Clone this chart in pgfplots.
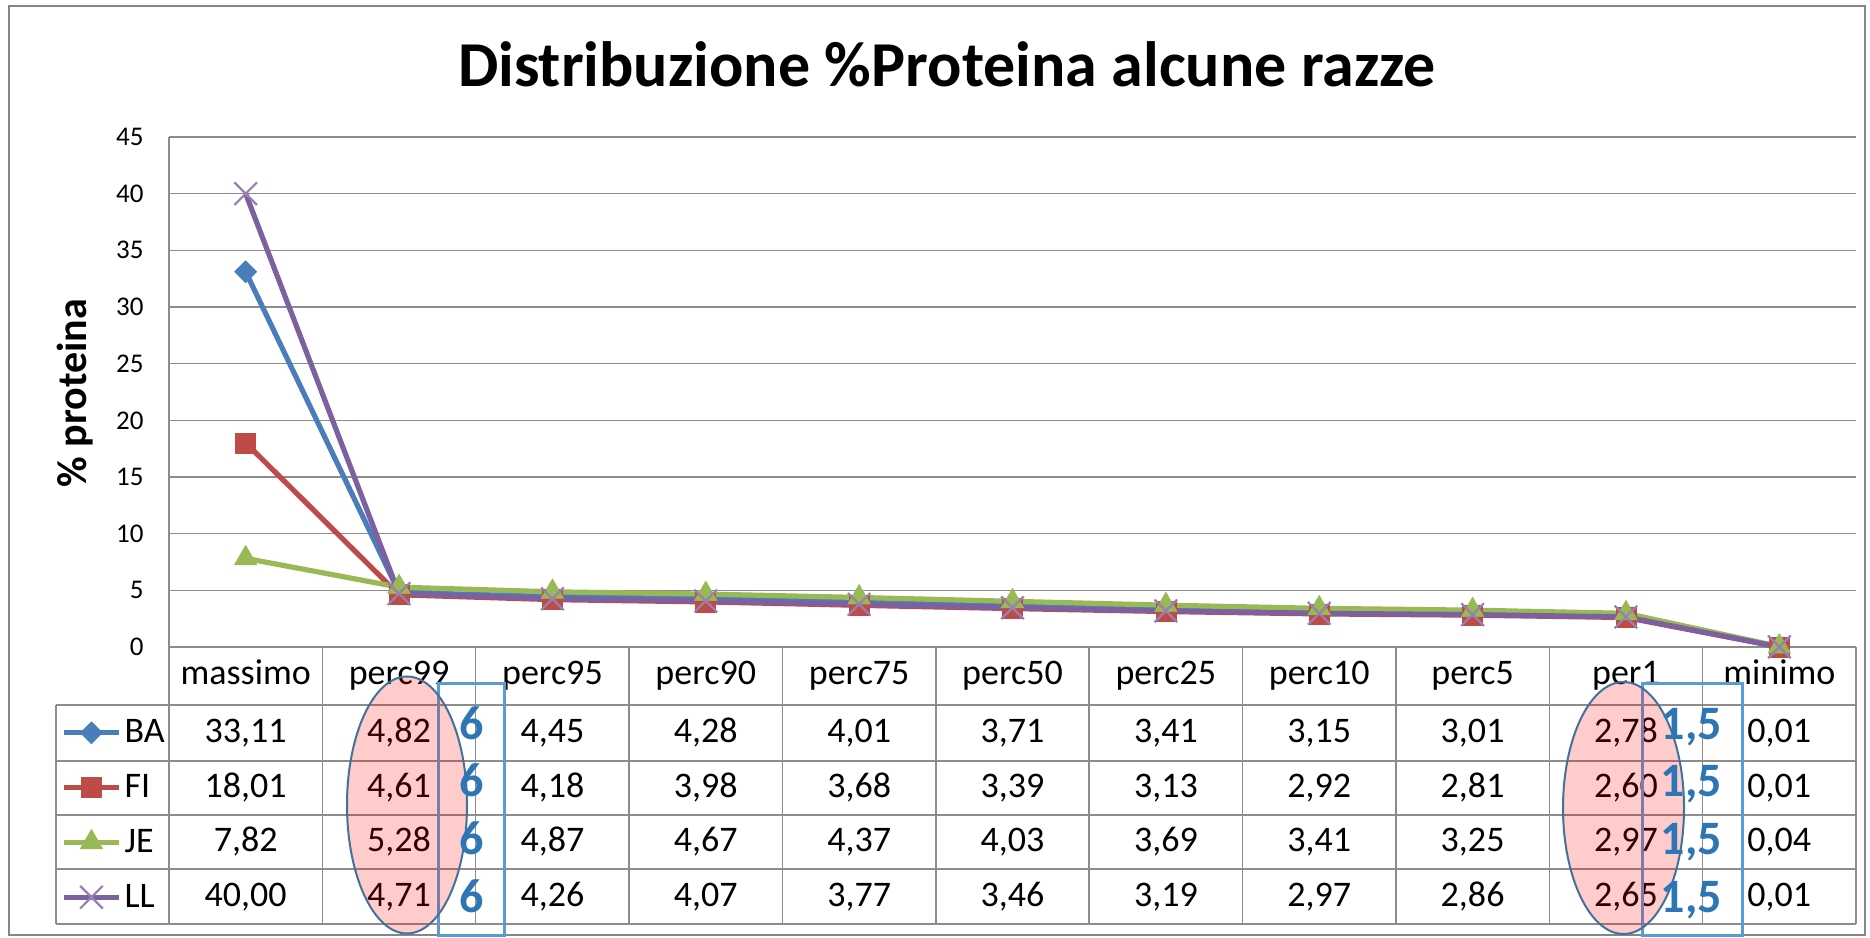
\documentclass[border=0pt]{standalone}
\usepackage{fontspec}
\setmainfont{Carlito}
\usepackage{pgfplots}
\usepackage{pgfplotstable}
\pgfplotsset{compat=1.18}
\pgfkeys{/pgf/number format/assume math mode=true}

\definecolor{cBA}{HTML}{4A7EBB}
\definecolor{cFI}{HTML}{BE4B48}
\definecolor{cJE}{HTML}{98B954}
\definecolor{cLL}{HTML}{7D60A0}
\definecolor{gridc}{HTML}{8C8C8C}
\definecolor{framec}{HTML}{868686}
\definecolor{annblue}{HTML}{5B9BD5}
\definecolor{numblue}{HTML}{2E75B6}
\definecolor{ellline}{HTML}{41719C}

\newcommand\tabfont{\fontsize{18pt}{20pt}\selectfont}

\pgfplotstableread{
cat BA FI JE LL
0 33.11 18.01 7.82 40.00
1 4.82 4.61 5.28 4.71
2 4.45 4.18 4.87 4.26
3 4.28 3.98 4.67 4.07
4 4.01 3.68 4.37 3.77
5 3.71 3.39 4.03 3.46
6 3.41 3.13 3.69 3.19
7 3.15 2.92 3.41 2.97
8 3.01 2.81 3.25 2.86
9 2.78 2.60 2.97 2.65
10 0.01 0.01 0.04 0.01
}\datatable

\begin{document}
\begin{tikzpicture}
\begin{scope}[x=1pt,y=1pt]
\useasboundingbox (0,0) rectangle (935,468.5);
\draw[framec, line width=1.2pt] (4.5,1) rectangle (932.5,465.5);
\node[anchor=base, font=\fontsize{32pt}{36pt}\selectfont\bfseries, inner sep=0pt] at (473.5,425) {Distribuzione \%Proteina alcune razze};
\node[rotate=90, font=\fontsize{21pt}{24pt}\selectfont\bfseries, inner sep=0pt] at (37.5,272) {\% proteina};
\end{scope}

\begin{axis}[
  at={(84.5pt,145pt)}, anchor=south west,
  scale only axis, width=843.5pt, height=255pt,
  xmin=-0.5, xmax=10.5, ymin=0, ymax=45,
  xtick=\empty, ytick={0,5,...,45},
  ymajorgrids, grid style={gridc, line width=0.7pt},
  axis x line*=bottom, axis y line*=left,
  axis line style={-, gridc, line width=0.7pt},
  major tick length=0pt,
  yticklabel style={font=\fontsize{13.5pt}{15pt}\selectfont, anchor=east, inner sep=0pt, xshift=-12.5pt},
  /pgf/number format/assume math mode=true,
  clip=false,
  legend image code/.code={\draw[mark repeat=2,mark phase=2] plot coordinates {(0pt,0pt) (13.75pt,0pt) (27.5pt,0pt)};},
  legend style={at={(axis description cs:-0.06402,-0.11373)}, anchor=north west, draw=none, fill=none, inner sep=0pt, font=\tabfont, column sep=1.5pt, nodes={inner sep=0pt, minimum height=27.4pt}},
  legend cell align=left,
  every axis plot/.append style={line width=2.6pt, line join=round},
]
\addplot[cBA, mark=square*, mark size=3.9pt, mark options={rotate=45, solid, line width=0.3pt}] table[x=cat,y=BA]{\datatable};
\addlegendentry{BA}
\addplot[cFI, mark=square*, mark size=5pt, mark options={solid, line width=0.3pt}] table[x=cat,y=FI]{\datatable};
\addlegendentry{FI}
\addplot[cJE, mark=triangle*, mark size=6.5pt, mark options={solid, line width=0.3pt}] table[x=cat,y=JE]{\datatable};
\addlegendentry{JE}
\addplot[cLL, mark=x, mark size=8pt, mark options={solid, draw=cLL!80!white, line width=1.1pt}] table[x=cat,y=LL]{\datatable};
\addlegendentry{LL}
\end{axis}

\begin{scope}[x=1pt,y=1pt]
% table grid
\foreach \k in {0,...,11} {
  \draw[gridc, line width=0.7pt] ({84.5+76.682*\k},145) -- ({84.5+76.682*\k},6.5);
}
\draw[gridc, line width=0.7pt] (28,116) -- (28,6.5);
\foreach \yy in {116,88,61,34,6.5} {
  \draw[gridc, line width=0.7pt] (28,\yy) -- (928,\yy);
}
% header
\foreach \h [count=\i from 0] in {massimo,perc99,perc95,perc90,perc75,perc50,perc25,perc10,perc5,per1,minimo} {
  \node[anchor=base, inner sep=0pt, font=\tabfont] at ({84.5+76.682*(\i+0.5)},126) {\h};
}
% values
\foreach \s/\yb in {BA/97,FI/69.5,JE/42.5,LL/15.25} {
  \foreach \r in {0,...,10} {
    \pgfplotstablegetelem{\r}{\s}\of\datatable
    \node[anchor=base, inner sep=0pt, font=\tabfont] at ({84.5+76.682*(\r+0.5)},\yb)
      {\pgfmathprintnumber[fixed,fixed zerofill,precision=2,use comma]{\pgfplotsretval}};
  }
}
% annotations
\draw[annblue, line width=1.5pt] (219,0.5) rectangle (252,126.5);
\draw[annblue, line width=1.5pt] (821,0.5) rectangle (871,126.5);
\draw[ellline, line width=1pt, fill=red, fill opacity=0.2] (203.5,66) ellipse [x radius=30, y radius=64.25];
\draw[ellline, line width=1pt, fill=red, fill opacity=0.2] (811.75,64.5) ellipse [x radius=30.25, y radius=63];
\foreach \yb in {98.5,70,41,12.5} {
  \node[anchor=base, inner sep=0pt, text=numblue, font=\fontsize{24pt}{26pt}\selectfont\bfseries] at (236,\yb) {6};
  \node[anchor=base, inner sep=0pt, text=numblue, font=\fontsize{24pt}{26pt}\selectfont\bfseries] at (845.75,\yb) {1,5};
}
\end{scope}
\end{tikzpicture}
\end{document}
